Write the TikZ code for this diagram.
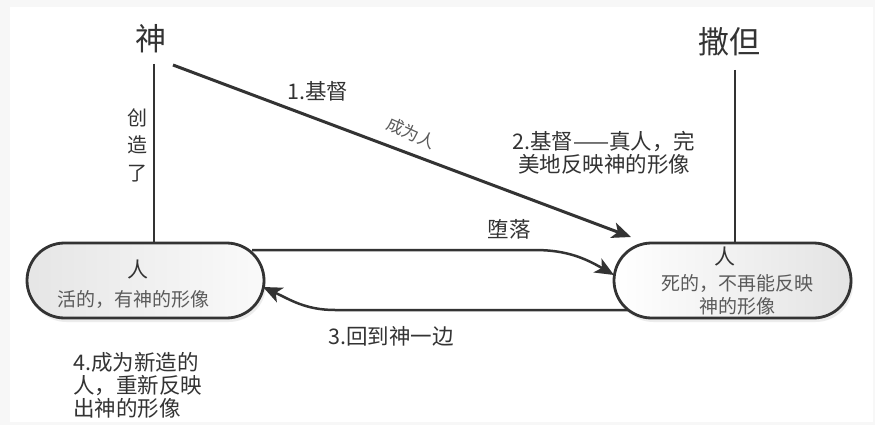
\documentclass[tikz,border=0pt]{standalone}
\usepackage{fontspec}
\setmainfont{Noto Sans CJK SC}
\usetikzlibrary{arrows.meta,shapes.misc,shadows,calc}
\pgfdeclarelayer{back}
\pgfdeclarelayer{bg}
\pgfsetlayers{back,bg,main}
\definecolor{ink}{HTML}{333333}
\definecolor{soft}{HTML}{5A5A5A}
\tikzset{
  x=1pt,y=1pt,
  pill/.style={rounded rectangle, draw=ink, line width=2.8pt, minimum width=237pt, minimum height=75pt,
    left color=gray!20, right color=gray!4, inner sep=0pt,
    drop shadow={shadow xshift=2pt,shadow yshift=-4pt,opacity=0.15}},
  pillr/.style={pill, left color=white, right color=gray!22},
  bigname/.style={font=\fontsize{31}{34}\selectfont, text=ink, inner sep=0pt},
  lbl/.style={font=\fontsize{21.5}{23}\selectfont, text=ink, align=center, inner sep=0pt},
  head/.style={font=\fontsize{21}{22}\selectfont, text=ink, inner sep=0pt},
  sub/.style={font=\fontsize{19}{23}\selectfont, text=soft, align=center, inner sep=0pt},
  conn/.style={draw=ink, line width=2.5pt},
  arr/.style={conn, -{Stealth[length=19pt,width=16pt,inset=5pt]}},
}
\begin{document}
\begin{tikzpicture}
\begin{pgfonlayer}{back}
\fill[gray!6] (0,0) rectangle (875,-425);
\fill[white] (10,-7) rectangle (873,-422);
\end{pgfonlayer}
\useasboundingbox (0,0) rectangle (875,-425);

\node[bigname] (G) at (151,-39) {神};
\node[bigname] (S) at (729,-42) {撒但};

\node[pill] (L) at (145.5,-280.5) {};
\node[head] (Lh) at (138,-270) {人};
\node[sub] (Ls) at (133,-299) {活的，有神的形像};

\node[pillr] (R) at (732.5,-280.5) {};
\node[head] (Rh) at (725,-257) {人};
\node[sub] (Rs) at (737,-294.5) {死的，不再能反映\\神的形像};

% vertical lines
\coordinate (G1) at (154,-64);
\coordinate (S1) at (735,-70);
\begin{pgfonlayer}{bg}
\draw[conn] (G1) -- (G1 |- L.north);
\draw[conn] (S1) -- (S1 |- R.north);
% fall
\coordinate (F0) at (252,-250);
\coordinate (F1) at (614,-275);
\draw[arr] (F0) -- (535,-250) to[out=0,in=150] (F1);
\end{pgfonlayer}

% diagonal: Christ
\coordinate (C0) at (173,-65);
\coordinate (C1) at (631,-237);
\draw[arr, line width=3pt] (C0) -- (C1);

% return
\coordinate (B0) at (628,-310);
\coordinate (B1) at (263,-287);
\draw[arr] (B0) -- (335,-310) to[out=180,in=-25] (B1);

% labels
\node[lbl] (t1) at (318,-91) {1.基督};
\node[text=soft, inner sep=0pt, rotate=-24, font=\fontsize{17}{18}\selectfont] (t1b) at (411,-133) {成为人};
\node[lbl] (t2) at (604,-153) {2.基督——真人，完\\美地反映神的形像};
\node[lbl] (tf) at (509,-229) {堕落};
\node[lbl] (t3) at (391,-336) {3.回到神一边};
\node[lbl, align=left, anchor=west] (t4) at (73,-385) {4.成为新造的\\人，重新反映\\出神的形像};
\node[lbl, font=\fontsize{20}{27.5}\selectfont] (tc) at (137,-145) {创\\造\\了};
\end{tikzpicture}
\end{document}
